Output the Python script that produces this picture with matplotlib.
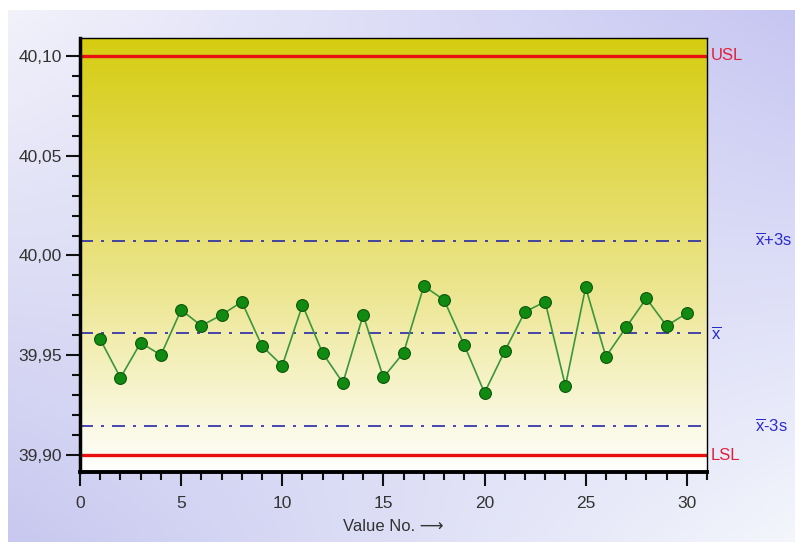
import matplotlib
matplotlib.use("Agg")
import matplotlib.pyplot as plt
import numpy as np
from matplotlib.colors import to_rgb
from matplotlib.ticker import MultipleLocator, FuncFormatter

plt.rcParams["font.family"] = ["Liberation Sans", "DejaVu Sans"]
plt.rcParams["mathtext.fontset"] = "custom"
plt.rcParams["mathtext.rm"] = "Liberation Sans"

# ---- data -------------------------------------------------------------
value_no = list(range(1, 31))
values = [
    39.9580, 39.9387, 39.9563, 39.9501, 39.9727, 39.9648, 39.9702, 39.9768,
    39.9546, 39.9448, 39.9752, 39.9510, 39.9362, 39.9702, 39.9389, 39.9513,
    39.9847, 39.9777, 39.9551, 39.9312, 39.9521, 39.9718, 39.9768, 39.9346,
    39.9841, 39.9493, 39.9640, 39.9785, 39.9648, 39.9710,
]
usl = 40.10
lsl = 39.90
x_mean = 39.961
ucl = 40.0075   # x + 3s
lcl = 39.9145   # x - 3s

# ---- figure -----------------------------------------------------------
W, H = 795, 542
fig = plt.figure(figsize=(W / 100, H / 100), dpi=100)
fig.patch.set_facecolor("white")

# lavender gradient background (leaves a white strip top/left)
bg = fig.add_axes([8 / W, 0, 1 - 8 / W, 1 - 10 / H], zorder=-10)
bg.axis("off")
tl, tr = np.array(to_rgb("#f2f2fb")), np.array(to_rgb("#c6c6f2"))
bl, br = np.array(to_rgb("#c8c8f0")), np.array(to_rgb("#f4f6fc"))
u = np.linspace(0, 1, 200)[None, :, None]
v = np.linspace(0, 1, 140)[:, None, None]
img = (1 - v) * ((1 - u) * tl + u * tr) + v * ((1 - u) * bl + u * br)
bg.imshow(img, aspect="auto", extent=[0, 1, 0, 1])

ax = fig.add_axes([80 / W, (H - 472) / H, (707 - 80) / W, (472 - 38) / H])
ax.set_xlim(0, 31)
ax.set_ylim(39.8915, 40.109)

# yellow -> white vertical gradient inside the plot area
top_c = np.array(to_rgb("#d6cc10"))
mid_c = np.array(to_rgb("#ebe488"))
bot_c = np.array(to_rgb("#ffffff"))
t = np.linspace(0, 1, 300)[:, None]
grad = np.where(t < 0.55,
                top_c + (mid_c - top_c) * (t / 0.55),
                mid_c + (bot_c - mid_c) * ((t - 0.55) / 0.45))
ax.imshow(grad[:, None, :], aspect="auto", extent=[0, 31, 39.8915, 40.109],
          zorder=0)

# spec limits and control limits
ax.axhline(usl, color="#e81010", linewidth=2.4, zorder=2)
ax.axhline(lsl, color="#e81010", linewidth=2.4, zorder=2)
for yv in (ucl, x_mean, lcl):
    ax.axhline(yv, color="#2828a8", linewidth=1.2,
               dashes=(7.8, 4.8, 1.8, 4.8), zorder=2)

# measured values
ax.plot(value_no, values, color="#3c963c", linewidth=1.2, zorder=3)
ax.plot(value_no, values, linestyle="none", marker="o", markersize=8.5,
        markerfacecolor="#118a11", markeredgecolor="#0a560a",
        markeredgewidth=0.8, zorder=4)

# right hand labels
trans = ax.get_yaxis_transform()
lab_kw = dict(transform=trans, fontsize=12, va="center", ha="left",
              clip_on=False)
ax.text(1.006, usl, "USL", color="#e0203a", **lab_kw)
ax.text(1.006, lsl, "LSL", color="#e0203a", **lab_kw)
ax.text(1.006, x_mean, r"$\overline{\mathrm{x}}$", color="#2a2ad0", **lab_kw)
ax.text(1.077, ucl, r"$\overline{\mathrm{x}}$+3s", color="#2a2ad0", **lab_kw)
ax.text(1.077, lcl, r"$\overline{\mathrm{x}}$-3s", color="#2a2ad0", **lab_kw)

# axes styling
ax.spines["left"].set_linewidth(2.5)
ax.spines["bottom"].set_linewidth(2.8)
ax.spines["top"].set_linewidth(1.0)
ax.spines["right"].set_linewidth(1.0)
for s in ax.spines.values():
    s.set_zorder(5)

ax.xaxis.set_major_locator(MultipleLocator(5))
ax.xaxis.set_minor_locator(MultipleLocator(1))
ax.yaxis.set_major_locator(MultipleLocator(0.05))
ax.yaxis.set_minor_locator(MultipleLocator(0.01))
ax.yaxis.set_major_formatter(
    FuncFormatter(lambda val, pos: f"{val:.2f}".replace(".", ",")))

ax.tick_params(axis="both", which="major", direction="out", length=10,
               width=1.5, colors="#111111", labelcolor="#333333",
               labelsize=12.5)
ax.tick_params(axis="both", which="minor", direction="out", length=6,
               width=1.5, colors="#111111")
ax.tick_params(axis="x", which="major", pad=7)
ax.tick_params(axis="y", which="major", pad=3)

ax.set_xlabel("Value No. \u27f6", fontsize=12, color="#333333", labelpad=6)

fig.savefig("out.png", dpi=100)
